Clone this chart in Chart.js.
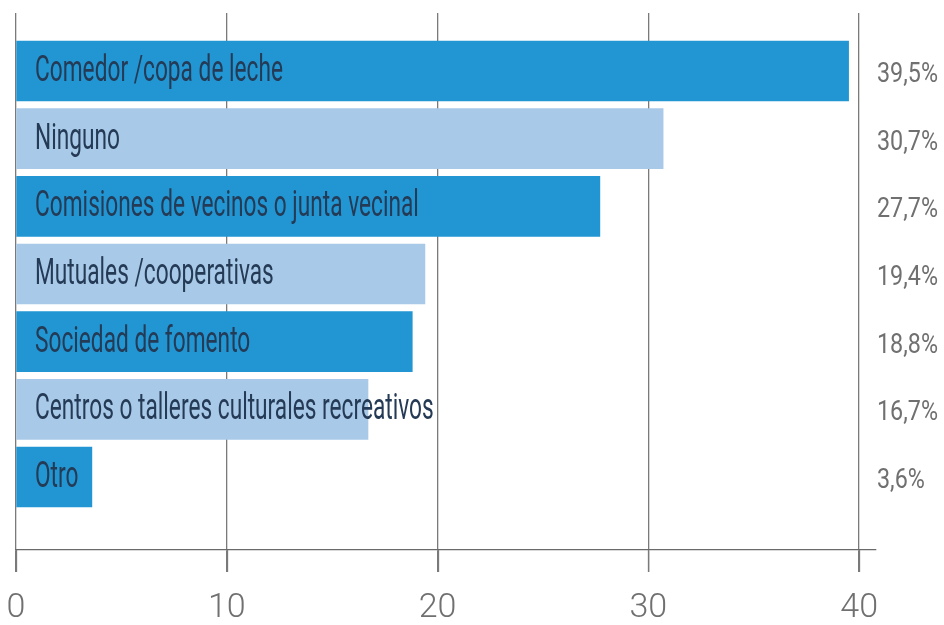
<!DOCTYPE html>
<html>
<head>
<meta charset="utf-8">
<script src="https://cdn.jsdelivr.net/npm/chart.js@4.4.1/dist/chart.umd.min.js"></script>
<style>
  html, body { margin: 0; padding: 0; background: #fff; }
  #wrap { width: 944px; height: 625px; }
</style>
</head>
<body>
<div id="wrap"><canvas id="myChart"></canvas></div>
<script>
// datos del gráfico
const categorias = [
  "Comedor /copa de leche",
  "Ninguno",
  "Comisiones de vecinos o junta vecinal",
  "Mutuales /cooperativas",
  "Sociedad de fomento",
  "Centros o talleres culturales recreativos",
  "Otro"
];
const porcentajes = [39.5, 30.7, 27.7, 19.4, 18.8, 16.7, 3.6];
const etiquetasValor = ["39,5%", "30,7%", "27,7%", "19,4%", "18,8%", "16,7%", "3,6%"];
const ticksX = [0, 10, 20, 30, 40];

const fuente = "'Roboto', 'Noto Sans', sans-serif";
const azulOscuro = "#2196d3";
const azulClaro = "#a8c9e8";

// texto estrecho: se comprime en horizontal para imitar la letra condensada
function textoEstrecho(ctx, txt, x, y, escala) {
  ctx.save();
  ctx.translate(x, y);
  ctx.scale(escala, 1);
  ctx.fillText(txt, 0, 0);
  ctx.restore();
}

// etiquetas dentro de las barras y valores a la derecha
const textosBarras = {
  id: "textosBarras",
  afterDraw(chart) {
    const ctx = chart.ctx;
    const area = chart.chartArea;
    const meta = chart.getDatasetMeta(0);
    ctx.save();
    ctx.textBaseline = "middle";
    ctx.textAlign = "left";
    ctx.font = "36px " + fuente;
    const escalaCat = 248 / ctx.measureText(categorias[0]).width;
    meta.data.forEach((bar, i) => {
      ctx.font = "36px " + fuente;
      ctx.fillStyle = "#243a55";
      textoEstrecho(ctx, categorias[i], area.left + 19, bar.y + 1, escalaCat);
    });
    ctx.font = "28px " + fuente;
    const escalaVal = 61 / ctx.measureText(etiquetasValor[0]).width;
    meta.data.forEach((bar, i) => {
      ctx.fillStyle = "#707070";
      textoEstrecho(ctx, etiquetasValor[i], area.right + 1, bar.y + 4, escalaVal);
    });
    ctx.restore();
  }
};

// marcas de los ticks por debajo del eje x
const marcasEje = {
  id: "marcasEje",
  afterDraw(chart) {
    const ctx = chart.ctx;
    const x = chart.scales.x;
    const abajo = chart.chartArea.bottom;
    ctx.save();
    ctx.strokeStyle = "#7a7a7a";
    ctx.lineWidth = 1.3;
    ticksX.forEach(v => {
      const px = Math.round(x.getPixelForValue(v)) + 0.5;
      ctx.beginPath();
      ctx.moveTo(px, abajo);
      ctx.lineTo(px, abajo + 22);
      ctx.stroke();
    });
    ctx.restore();
  }
};

let ctx = document.getElementById("myChart").getContext("2d");
let myChart = new Chart(ctx, {
  type: "bar",
  data: {
    datasets: [{
      data: porcentajes.map((v, i) => ({ x: v, y: i })),
      backgroundColor: porcentajes.map((v, i) => i % 2 === 0 ? azulOscuro : azulClaro),
      borderWidth: 0,
      barThickness: 60
    }]
  },
  options: {
    indexAxis: "y",
    responsive: true,
    maintainAspectRatio: false,
    animation: false,
    layout: { padding: { left: 16, right: 68, top: 13, bottom: 0 } },
    plugins: {
      legend: { display: false },
      tooltip: { enabled: false }
    },
    scales: {
      y: {
        type: "linear",
        reverse: true,
        offset: false,
        min: -0.857,
        max: 7.079,
        display: false
      },
      x: {
        min: 0,
        max: 40.8,
        z: 1,
        afterBuildTicks: scale => {
          scale.ticks = ticksX.map(v => ({ value: v }));
        },
        afterFit: scale => {
          scale.paddingLeft = 0;
          scale.paddingRight = 0;
          scale.height = 75;
        },
        grid: {
          color: "#7a7a7a",
          lineWidth: 1.3,
          tickLength: 22
        },
        border: { display: true, color: "#6a6a6a", width: 1.3 },
        ticks: {
          color: "#707070",
          padding: 16,
          font: { family: fuente, size: 34, weight: "300" }
        }
      }
    }
  },
  plugins: [textosBarras, marcasEje]
});
</script>
</body>
</html>
